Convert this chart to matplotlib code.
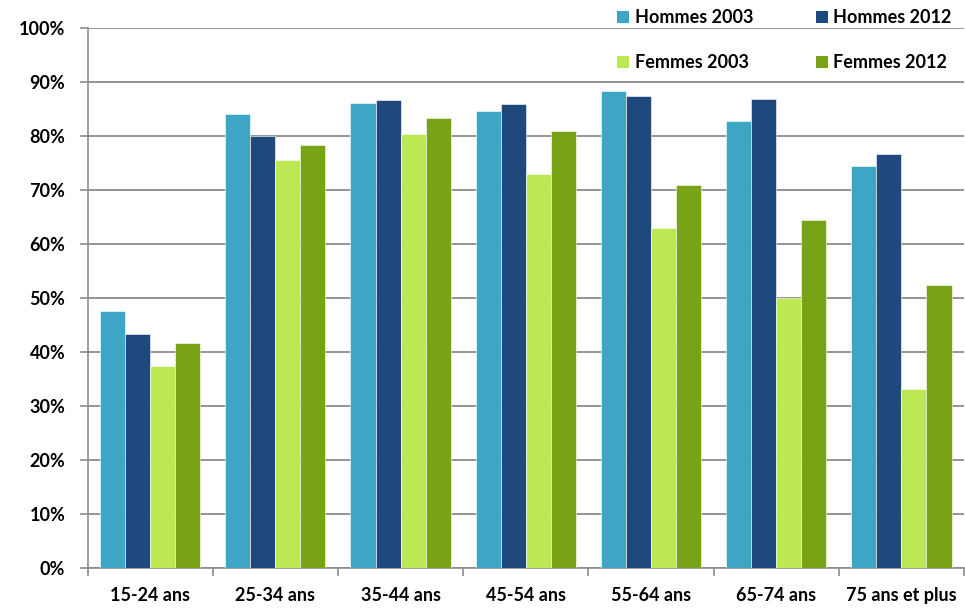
import numpy as np
import matplotlib.pyplot as plt
from matplotlib.patches import Patch

plt.rcParams['font.family'] = ['Lato', 'DejaVu Sans']

categories = ['15-24 ans', '25-34 ans', '35-44 ans', '45-54 ans',
              '55-64 ans', '65-74 ans', '75 ans et plus']
hommes_2003 = [47.6, 84.0, 86.1, 84.6, 88.3, 82.7, 74.4]
hommes_2012 = [43.3, 79.9, 86.5, 85.9, 87.4, 86.8, 76.6]
femmes_2003 = [37.4, 75.5, 80.3, 72.9, 63.0, 50.0, 33.1]
femmes_2012 = [41.7, 78.3, 83.3, 80.9, 70.9, 64.3, 52.4]

series = [hommes_2003, hommes_2012, femmes_2003, femmes_2012]
labels = ['Hommes 2003', 'Hommes 2012', 'Femmes 2003', 'Femmes 2012']
colors = ['#3ea6c5', '#1f497d', '#bbe853', '#78a317']

fig = plt.figure(figsize=(9.65, 6.09), dpi=100)
ax = fig.add_axes([0.0907, 0.0673, 0.9083, 0.8875])

x = np.arange(len(categories))
w = 0.2
for i, vals in enumerate(series):
    ax.bar(x - 0.3 + i * w, vals, w, color=colors[i], edgecolor='white',
           linewidth=0.4, zorder=3)

ax.set_xlim(-0.5, len(categories) - 0.5)
ax.set_ylim(0, 100)
ax.set_yticks(np.arange(0, 101, 10))
ax.set_yticklabels([f'{v}%' for v in range(0, 101, 10)])
ax.set_xticks(x)
ax.set_xticklabels(categories)
ax.set_xticks(np.arange(-0.5, len(categories), 1), minor=True)

ax.yaxis.grid(True, color='#8c8c8c', linewidth=1.3, zorder=0)
for s in ['top', 'right']:
    ax.spines[s].set_visible(False)
for s in ['left', 'bottom']:
    ax.spines[s].set_color('#8c8c8c')
    ax.spines[s].set_linewidth(1.2)

ax.tick_params(axis='y', length=6, width=1.2, color='#8c8c8c', pad=10,
               labelsize=13)
ax.tick_params(axis='x', which='major', length=0, pad=14, labelsize=13)
ax.tick_params(axis='x', which='minor', length=6, width=1.2, color='#8c8c8c')
for t in ax.get_xticklabels() + ax.get_yticklabels():
    t.set_fontweight('bold')

# legende sur deux colonnes en haut a droite
order = [0, 2, 1, 3]
handles = [Patch(facecolor=colors[i]) for i in order]
leg = fig.legend(handles, [labels[i] for i in order], ncol=2, frameon=False,
                 loc='upper left', bbox_to_anchor=(0.623, 1.012),
                 handlelength=0.65, handleheight=0.65, handletextpad=0.3,
                 columnspacing=3.5, labelspacing=1.55,
                 prop={'weight': 'bold', 'size': 13})

fig.savefig('out.png', dpi=100)
